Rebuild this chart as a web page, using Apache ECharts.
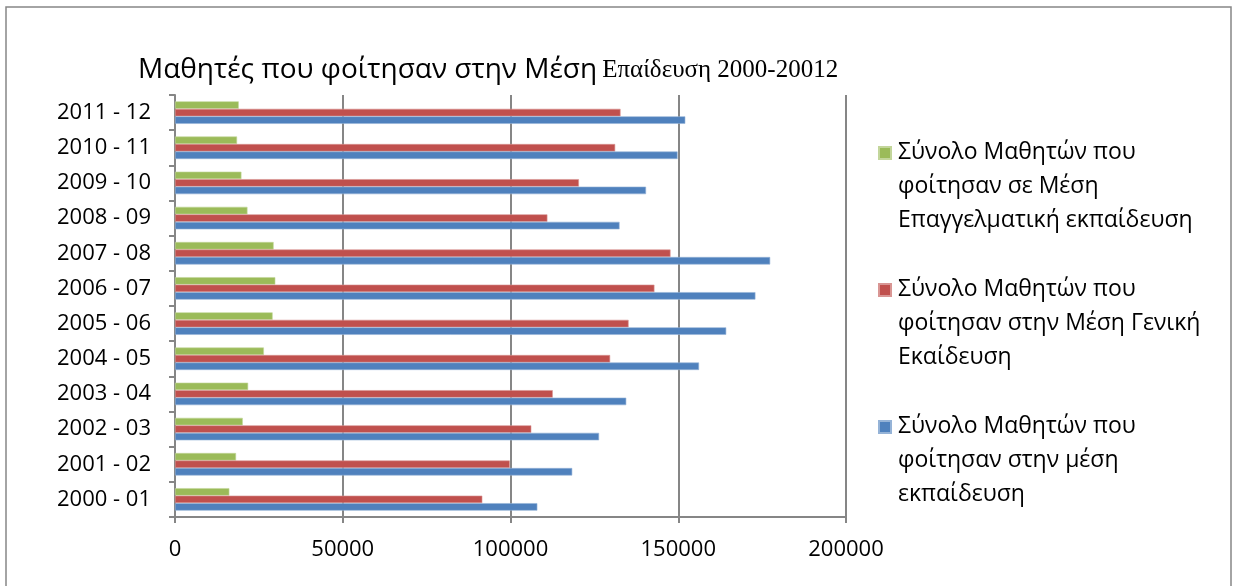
<!DOCTYPE html>
<html lang="el">
<head>
    <meta charset="UTF-8">
    <title>bar</title>
    <script src="https://cdn.jsdelivr.net/npm/echarts@6/dist/echarts.min.js"></script>
    <style>
        body { margin: 0; background: #fff; }
        #main { width: 1235px; height: 586px; }
    </style>
</head>
<body>
<div id="main"></div>
<script type="text/javascript">
    // categories, bottom to top
    var years = ['2000 - 01', '2001 - 02', '2002 - 03', '2003 - 04', '2004 - 05', '2005 - 06',
                 '2006 - 07', '2007 - 08', '2008 - 09', '2009 - 10', '2010 - 11', '2011 - 12'];
    var vocational = [16200, 18200, 20200, 21800, 26500, 29100, 29900, 29400, 21600, 19800, 18500, 19000];
    var general = [91600, 99800, 106200, 112600, 129700, 135200, 142900, 147700, 111000, 120400, 131200, 132800];
    var total = [108000, 118400, 126400, 134500, 156200, 164300, 173000, 177400, 132500, 140400, 149800, 152100];
    var xTicks = [0, 50000, 100000, 150000, 200000];

    var names = [
        'Σύνολο Μαθητών που\nφοίτησαν σε Μέση\nΕπαγγελματική εκπαίδευση',
        'Σύνολο Μαθητών που\nφοίτησαν στην Μέση Γενική\nΕκαίδευση',
        'Σύνολο Μαθητών που\nφοίτησαν στην μέση\nεκπαίδευση'
    ];
    var colors = ['#9BBB59', '#C0504D', '#4F81BD'];
    var borders = ['#C3D69B', '#D99694', '#95B3D7'];

    var myChart = echarts.init(document.getElementById('main'));

    // square at the first text line, tall box so the text hangs below
    var legendIcon = 'path://M0,11L12,11L12,23L0,23Z M0,0L0.01,0 M0,101L0.01,101';

    var datasets = [vocational, general, total];
    var series = [];
    for (var i = 0; i < 3; i++) {
        series.push({
            name: names[i],
            type: 'bar',
            data: datasets[i],
            barGap: '0%',
            barCategoryGap: '36%',
            itemStyle: { color: colors[i], borderColor: borders[i], borderWidth: 0.6 }
        });
    }

    var option = {
        animation: false,
        title: {
            text: '{a|Μαθητές που φοίτησαν στην Μέση} {b|Επαίδευση 2000-20012}',
            left: 133,
            top: 51,
            textStyle: {
                rich: {
                    a: { fontFamily: 'Open Sans', fontWeight: 'normal', fontSize: 28, color: '#000' },
                    b: { fontFamily: 'Liberation Serif', fontWeight: 'normal', fontSize: 25, color: '#000' }
                }
            }
        },
        legend: {
            orient: 'vertical',
            left: 878,
            top: 135,
            padding: 0,
            itemWidth: 12,
            itemHeight: 101,
            itemGap: 34,
            icon: legendIcon,
            data: names,
            selectedMode: false,
            textStyle: { fontFamily: 'Open Sans', fontSize: 23, lineHeight: 33.7, color: '#000', padding: [0, 0, 0, 2] }
        },
        grid: { left: 175, right: 389, top: 95, bottom: 69, containLabel: false },
        xAxis: {
            type: 'value',
            min: xTicks[0],
            max: xTicks[xTicks.length - 1],
            interval: 50000,
            axisLine: { show: true, lineStyle: { color: '#868686', width: 2 } },
            axisTick: { show: true, length: 6, lineStyle: { color: '#868686', width: 2 } },
            axisLabel: {
                fontFamily: 'Open Sans', fontSize: 22, color: '#000', margin: 22,
                formatter: function (v) { return String(v); }
            },
            splitLine: { show: true, lineStyle: { color: '#868686', width: 2 } }
        },
        yAxis: {
            type: 'category',
            data: years,
            axisLine: { show: true, lineStyle: { color: '#868686', width: 2 } },
            axisTick: { show: true, length: 6, lineStyle: { color: '#868686', width: 2 } },
            axisLabel: { fontFamily: 'Open Sans', fontSize: 22, color: '#000', margin: 24 }
        },
        graphic: [{
            type: 'rect',
            shape: { x: 6, y: 7, width: 1225, height: 600 },
            style: { fill: 'none', stroke: '#868686', lineWidth: 1.5 },
            silent: true
        }],
        series: series
    };
    myChart.setOption(option);
</script>
</body>
</html>
